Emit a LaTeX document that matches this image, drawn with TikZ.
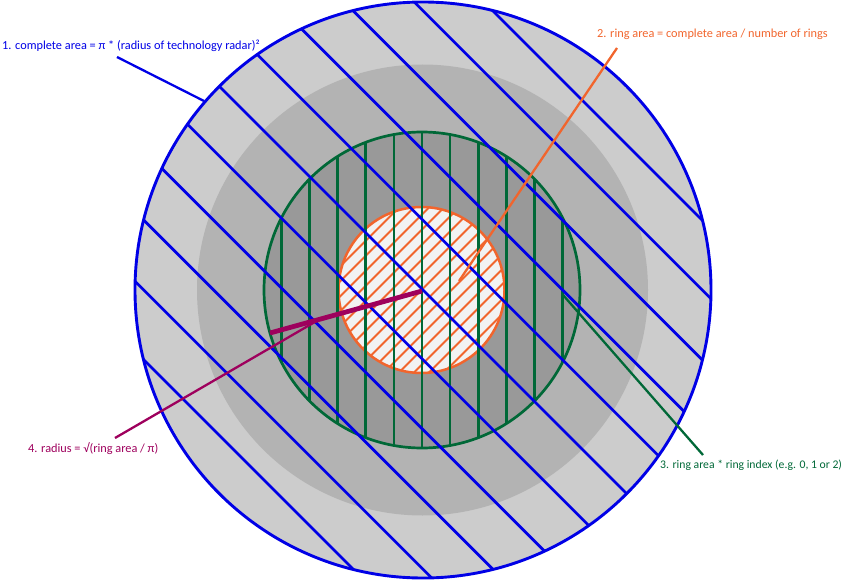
\documentclass[tikz,border=0pt]{standalone}
\usepackage{fontspec}
\setmainfont{Carlito}
\usetikzlibrary{calc}
\definecolor{cblue}{RGB}{0,0,230}
\definecolor{corange}{RGB}{241,101,45}
\definecolor{cgreen}{RGB}{0,104,55}
\definecolor{cmag}{RGB}{158,0,93}
\definecolor{gouter}{RGB}{204,204,204}
\definecolor{gmid}{RGB}{179,179,179}
\definecolor{ginner}{RGB}{153,153,153}
\definecolor{gcore}{RGB}{242,242,242}
\tikzset{
  lbl/.style={anchor=base west, inner sep=0pt, font=\fontsize{12.3}{14}\selectfont},
  hatchblue/.style={draw=cblue, line width=2.7pt},
  hatchgreen/.style={draw=cgreen, line width=2.7pt},
  hatchorange/.style={draw=corange, line width=2pt},
  leader/.style={line width=2.3pt},
}
\begin{document}
\begin{tikzpicture}[x=1pt,y=-1pt]
\useasboundingbox (0,0) rectangle (845,580);
% fills
\fill[gouter] (423,290) circle (288pt);
\fill[gmid] (422.5,290) circle (225.5pt);
\fill[ginner] (422,290) circle (158pt);
\fill[gcore] (421.5,290) circle (83pt);
% orange hatch
\begin{scope}
  \clip (421.5,290) circle (83pt);
  \foreach \k in {-9,...,9} {
    \draw[hatchorange] ($(421.5,290)+(7.5*\k,7.5*\k)+(-100,100)$) -- ($(421.5,290)+(7.5*\k,7.5*\k)+(100,-100)$);
  }
\end{scope}
\draw[corange, line width=2.5pt] (421.5,290) circle (83pt);
% green verticals
\begin{scope}
  \clip (422,290) circle (158pt);
  \foreach \k in {-5,...,5} {
    \draw[hatchgreen] (422+28.1*\k,100) -- (422+28.1*\k,480);
  }
\end{scope}
\draw[cgreen, line width=2.7pt] (422,290) circle (158pt);
% blue diagonal lines
\begin{scope}
  \clip (423,290) circle (288pt);
  \foreach \k in {-5,...,5} {
    \draw[hatchblue] ($(423,290)+(34.9*\k,-34.9*\k)+(-320,-320)$) -- ($(423,290)+(34.9*\k,-34.9*\k)+(320,320)$);
  }
\end{scope}
\draw[cblue, line width=2.9pt] (423,290) circle (288pt);
% labels
\node[lbl, text=cblue] (t1) at (2,50) {1. complete area = π * (radius of technology radar)²};
\node[lbl, text=corange] (t2) at (597,38) {2. ring area = complete area / number of rings};
\node[lbl, text=cgreen, font=\fontsize{11.7}{14}\selectfont] (t3) at (660,468) {3. ring area * ring index (e.g. 0, 1 or 2)};
\node[lbl, text=cmag] (t4) at (28,452) {4. radius = √(ring area / π)};
% leader coordinates
\coordinate (b1) at (117,57);
\coordinate (b2) at (204,101);
\coordinate (o1) at (617,48);
\coordinate (o2) at (459,281);
\coordinate (g1) at (563,295);
\coordinate (g2) at (703,455);
\coordinate (m0) at (422,291);
\coordinate (m1) at (270,333);
\coordinate (m2) at (320,319);
\coordinate (m3) at (115,438);
% leaders
\draw[leader, cblue] (b1) -- (b2);
\draw[leader, corange] (o1) -- (o2);
\draw[leader, cgreen] (g1) -- (g2);
\draw[cmag, line width=4.8pt] (m0) -- (m1);
\draw[leader, cmag] (m2) -- (m3);
\end{tikzpicture}
\end{document}
